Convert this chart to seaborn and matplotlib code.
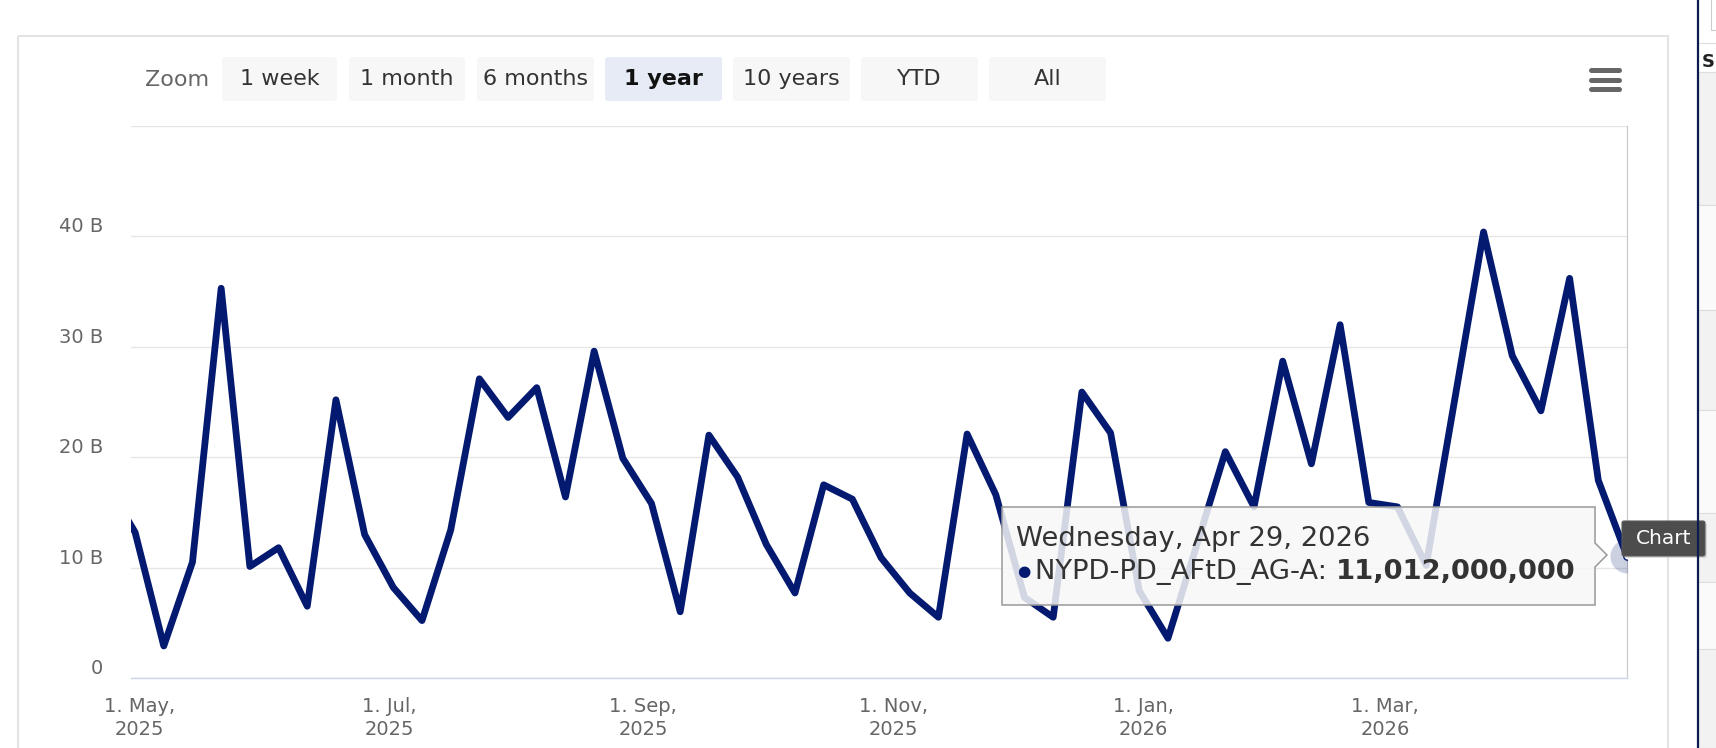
import pandas as pd
import numpy as np
import matplotlib
matplotlib.use("Agg")
import matplotlib.pyplot as plt
from matplotlib.patches import FancyBboxPatch, Rectangle, Polygon
from matplotlib.transforms import ScaledTranslation, blended_transform_factory
import seaborn as sns

sns.set_style("white")
plt.rcParams['font.family'] = ['DejaVu Sans']

# Weekly values (billions). First point lies just left of the 1-year window.
start_week = "2025-04-23"
values_b = [17.6, 13.2, 2.9, 10.5, 35.3, 10.1, 11.8, 6.5, 25.2, 13.0,
            8.2, 5.2, 13.4, 27.1, 23.6, 26.3, 16.4, 29.6, 19.9, 15.8,
            6.0, 22.0, 18.2, 12.1, 7.7, 17.5, 16.2, 10.9, 7.7, 5.5,
            22.1, 16.6, 7.3, 5.5, 25.9, 22.2, 7.9, 3.6, 12.0, 20.5,
            15.5, 28.7, 19.4, 32.0, 15.9, 15.5, 10.2, 25.3, 40.4, 29.2,
            24.2, 36.2, 17.9, 11.012]

window = ("2025-04-29", "2026-04-29")
ytick_vals = [0, 10, 20, 30, 40, 50]
ytick_labels = ["0", "10 B", "20 B", "30 B", "40 B", ""]
xtick_dates = ["2025-05-01", "2025-07-01", "2025-09-01",
               "2025-11-01", "2026-01-01", "2026-03-01"]
xtick_labels = ["1. May,\n2025", "1. Jul,\n2025", "1. Sep,\n2025",
                "1. Nov,\n2025", "1. Jan,\n2026", "1. Mar,\n2026"]
zoom_buttons = ["1 week", "1 month", "6 months", "1 year", "10 years", "YTD", "All"]
selected_button = "1 year"
series_name = "NYPD-PD_AFtD_AG-A"
hover_label = "Wednesday, Apr 29, 2026"

NAVY = "#041a70"
W, H = 1716, 748

df = pd.DataFrame({
    "date": pd.date_range(start_week, periods=len(values_b), freq="7D"),
    "value": values_b,
})

fig = plt.figure(figsize=(W / 100, H / 100), dpi=100)
fig.patch.set_facecolor("white")

# plot area (pixel box 131..1627 x 126..678)
ax = fig.add_axes([131 / W, 1 - 678 / H, (1627 - 131) / W, (678 - 126) / H])
ax.set_facecolor("none")
sns.lineplot(data=df, x="date", y="value", ax=ax, color=NAVY, linewidth=4.9,
             solid_joinstyle="round", solid_capstyle="round", zorder=3)

# hovered point halo
last = df.iloc[-1]
ax.scatter([last["date"]], [last["value"]], s=600, color=NAVY, alpha=0.2,
           linewidths=0, zorder=4)
ax.scatter([last["date"]], [last["value"]], s=28, color="white",
           edgecolors=NAVY, linewidths=1, zorder=5)

ax.set_xlim(pd.Timestamp(window[0]), pd.Timestamp(window[1]))
ax.set_ylim(0, 50)
ax.set_xlabel("")
ax.set_ylabel("")

ax.set_yticks(ytick_vals)
ax.set_yticklabels([])
ax.set_xticks([pd.Timestamp(d) for d in xtick_dates])
ax.set_xticklabels(xtick_labels)
for lbl in ax.get_xticklabels():
    lbl.set_linespacing(1.25)

# y labels sit a little above their grid lines
ylab_tr = blended_transform_factory(ax.transAxes, ax.transData) + \
    ScaledTranslation(-28 / 100, 9.5 / 100, fig.dpi_scale_trans)
for v, t in zip(ytick_vals, ytick_labels):
    ax.text(0, v, t, transform=ylab_tr, ha="right", va="center",
            fontsize=14, color="#666666", clip_on=False)

ax.grid(axis="y", color="#e6e6e6", linewidth=1)
ax.grid(axis="x", visible=False)
ax.tick_params(axis="x", length=12, width=0.8, color="#ccd6eb", pad=2,
               labelsize=14, labelcolor="#666666")
ax.tick_params(axis="y", length=0)
for s in ["top", "left"]:
    ax.spines[s].set_visible(False)
ax.spines["right"].set_color("#cccccc")
ax.spines["right"].set_linewidth(0.9)
ax.spines["bottom"].set_color("#ccd6eb")
ax.spines["bottom"].set_linewidth(1)

# overlay in pixel coordinates for the page chrome
ov = fig.add_axes([0, 0, 1, 1], zorder=10)
ov.set_xlim(0, W)
ov.set_ylim(H, 0)
ov.axis("off")
ov.patch.set_alpha(0)

# container border
ov.add_patch(Rectangle((17.5, 36), 1668 - 17.5, 730, fill=False,
                       edgecolor="#e3e3e3", linewidth=1.5))

# zoom buttons
ov.text(145, 80, "Zoom", fontsize=16, color="#666666", ha="left", va="center")
btn_x = [(222, 337), (349, 465), (477, 594), (605, 722), (733, 850), (861, 978), (989, 1106)]
for (x0, x1), name in zip(btn_x, zoom_buttons):
    sel = name == selected_button
    ov.add_patch(FancyBboxPatch((x0, 57), x1 - x0, 44,
                                boxstyle="round,pad=0,rounding_size=3",
                                facecolor="#e6ebf5" if sel else "#f7f7f7",
                                edgecolor="none"))
    ov.text((x0 + x1) / 2, 79, name, fontsize=16, color="#111111" if sel else "#333333",
            fontweight="bold" if sel else "normal", ha="center", va="center")

# hamburger menu
for yy in (70, 79.5, 89):
    ov.plot([1591, 1619], [yy, yy], color="#666666", linewidth=3.6,
            solid_capstyle="round")

# right-hand page strip
rows = [(43, 72, "white"), (72, 205, "#f2f2f2"), (205, 310, "#fafafa"),
        (310, 410, "#f2f2f2"), (410, 513, "#fafafa"), (513, 582, "#f2f2f2"),
        (582, 649, "#fafafa"), (649, 748, "#f2f2f2")]
for y0, y1, c in rows:
    ov.add_patch(Rectangle((1698, y0), 30, y1 - y0, facecolor=c,
                           edgecolor="#dddddd", linewidth=0.8))
ov.add_patch(Rectangle((1711, -5), 20, 35, facecolor="white",
                       edgecolor="#cccccc", linewidth=0.8))
ov.text(1702, 62, "S", fontsize=13, fontweight="bold", color="#222222",
        ha="left", va="center")
ov.plot([1698, 1698], [0, H], color="#0a1c50", linewidth=1.6)

# tooltip
tip = Polygon([(1002, 507), (1595, 507), (1595, 543), (1607, 555),
               (1595, 567), (1595, 605), (1002, 605)], closed=True,
              facecolor=(0.97, 0.97, 0.97, 0.85), edgecolor="#999999",
              linewidth=1.1)
ov.add_patch(tip)
ov.text(1016, 539, hover_label, fontsize=19.7, color="#333333",
        ha="left", va="center")
ov.text(1017, 572, "\u25cf", fontsize=11, color=NAVY, ha="left", va="center")
t1 = ov.text(1035, 572, series_name + ": ", fontsize=19.7, color="#333333",
             ha="left", va="center")
ov.annotate(f"{round(last['value'] * 1e9):,}", xy=(1, 0.5), xycoords=t1,
            fontsize=19.7, fontweight="bold", color="#333333",
            ha="left", va="center")

# browser "Chart" hint box
ov.add_patch(FancyBboxPatch((1624, 523), 83, 35,
                            boxstyle="round,pad=0,rounding_size=2",
                            facecolor="#bbbbbb", edgecolor="none", alpha=0.5))
ov.add_patch(FancyBboxPatch((1622, 521), 83, 35,
                            boxstyle="round,pad=0,rounding_size=2",
                            facecolor="#4d4d4d", edgecolor="#5a5a5a", linewidth=0.8))
ov.text(1663.5, 538.5, "Chart", fontsize=14.5, color="white",
        ha="center", va="center")

fig.savefig("out.png", dpi=100)
